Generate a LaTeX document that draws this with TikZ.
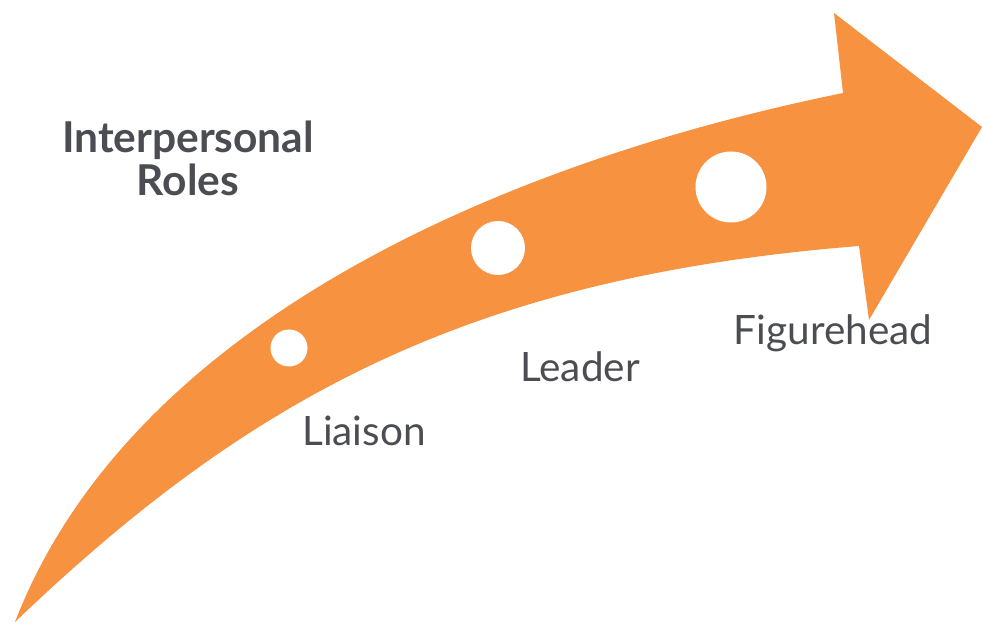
\documentclass[tikz,border=0pt]{standalone}
\usepackage{fontspec}
\setmainfont{Lato}
\definecolor{arroworange}{RGB}{247,146,64}
\definecolor{textgray}{RGB}{76,77,82}
\begin{document}
\begin{tikzpicture}[x=1pt,y=1pt,
  dot/.style={circle,fill=white,inner sep=0pt,minimum size=#1},
  role/.style={text=textgray,font=\fontsize{40.5}{46}\selectfont,inner sep=0pt,anchor=base},
  title/.style={text=textgray,font=\bfseries\fontsize{42.5}{48}\selectfont,inner sep=0pt,anchor=base}]
\useasboundingbox (0,0) rectangle (982,624);
% arrow (pixel coords, y flipped)
\fill[arroworange]
  (15,2) .. controls (130,300) and (500,461) .. (843,531)
  -- (834,611) -- (982,497) -- (869,304) -- (859,378)
  .. controls (471,347) and (251,228) .. (15,2) -- cycle;
\node[dot=37] (c1) at (289,276) {};
\node[dot=54] (c2) at (498,376) {};
\node[dot=71] (c3) at (731,437) {};
\node[role] (l1) at (364,178) {Liaison};
\node[role] (l2) at (580,242) {Leader};
\node[role] (l3) at (833,279) {Figurehead};
\node[title] (t1) at (188,471) {Interpersonal};
\node[title] (t2) at (188,428) {Roles};
\end{tikzpicture}
\end{document}
